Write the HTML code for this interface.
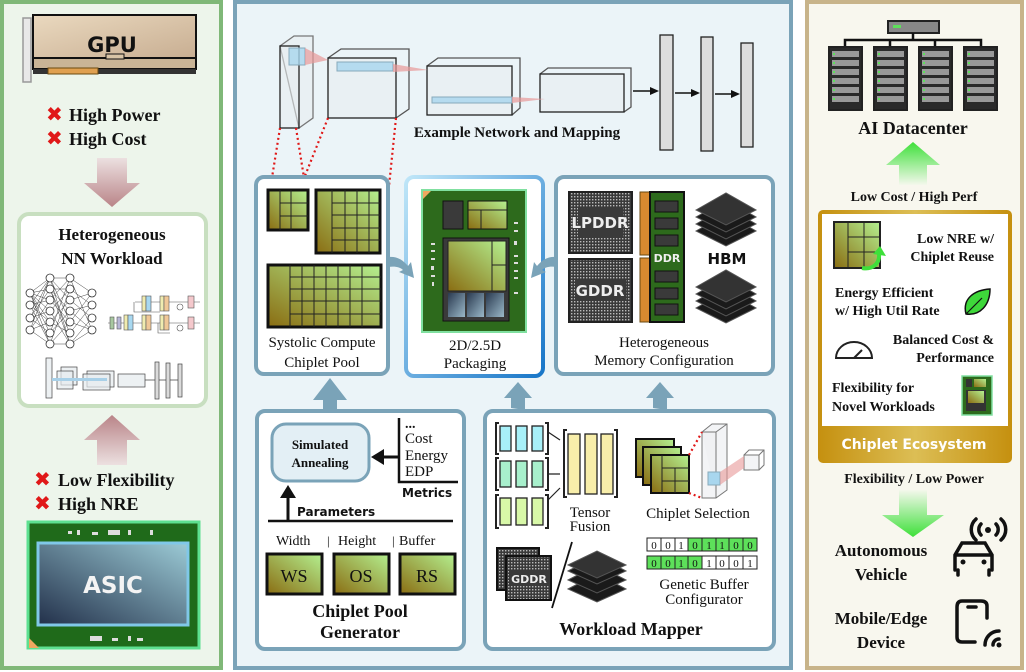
<!DOCTYPE html>
<html><head><meta charset="utf-8"><style>
html,body{margin:0;padding:0;background:#fff;}
svg{display:block;}
.sb{font-family:"Liberation Serif",serif;font-weight:bold;fill:#111;}
.sr{font-family:"Liberation Serif",serif;fill:#111;}
.ss{font-family:"DejaVu Sans","Liberation Sans",sans-serif;font-weight:bold;}
</style></head><body>
<svg width="1026" height="672" viewBox="0 0 1026 672" xmlns="http://www.w3.org/2000/svg">
<defs>
<linearGradient id="olive" x1="0" y1="1" x2="1" y2="0"><stop offset="0" stop-color="#8a6d12"/><stop offset="1" stop-color="#b4f090"/></linearGradient>
<linearGradient id="gpu" x1="0" y1="0" x2="1" y2="1"><stop offset="0" stop-color="#ead9bf"/><stop offset="1" stop-color="#c8ae92"/></linearGradient>
<linearGradient id="asic" x1="0" y1="1" x2="1" y2="0"><stop offset="0" stop-color="#22304a"/><stop offset="1" stop-color="#9ccbd6"/></linearGradient>
<linearGradient id="pink" x1="0" y1="0" x2="0" y2="1"><stop offset="0" stop-color="#ece0e0"/><stop offset="1" stop-color="#b98488"/></linearGradient>
<linearGradient id="pinkup" x1="0" y1="1" x2="0" y2="0"><stop offset="0" stop-color="#ece0e0"/><stop offset="1" stop-color="#b98488"/></linearGradient>
<linearGradient id="grnup" x1="0" y1="1" x2="0" y2="0"><stop offset="0" stop-color="#f4f8ec"/><stop offset="1" stop-color="#3ee03a"/></linearGradient>
<linearGradient id="grndn" x1="0" y1="0" x2="0" y2="1"><stop offset="0" stop-color="#f4f8ec"/><stop offset="1" stop-color="#3ee03a"/></linearGradient>
<linearGradient id="gold" x1="0" y1="0" x2="1" y2="0"><stop offset="0" stop-color="#c5900f"/><stop offset="0.5" stop-color="#dcbe55"/><stop offset="1" stop-color="#c5900f"/></linearGradient>
<linearGradient id="pkg" x1="0" y1="0" x2="1" y2="1"><stop offset="0" stop-color="#bfe6f8"/><stop offset="1" stop-color="#1876c8"/></linearGradient>
<linearGradient id="hbmb" x1="0" y1="0" x2="1" y2="1"><stop offset="0" stop-color="#2a3a50"/><stop offset="1" stop-color="#9ab8c8"/></linearGradient>
<pattern id="dots" width="3" height="3" patternUnits="userSpaceOnUse"><rect width="3" height="3" fill="#3a3a3a"/><rect x="1" y="1" width="1.4" height="1.4" fill="#bbb"/></pattern>
</defs>

<!-- LEFT PANEL -->
<rect x="2" y="2" width="219" height="666" fill="#edf5eb" stroke="#80b878" stroke-width="4"/>
<!-- GPU -->
<rect x="23" y="18" width="8" height="64" fill="#e8e8e8" stroke="#999" stroke-width="1.5"/>
<rect x="33" y="15" width="163" height="43" fill="url(#gpu)" stroke="#111" stroke-width="2"/>
<rect x="33" y="58" width="163" height="11" fill="#c9b496" stroke="#111" stroke-width="2"/>
<rect x="33" y="69" width="163" height="5" fill="#333"/>
<rect x="48" y="68" width="50" height="6" fill="#e0a050" stroke="#6a4a10"/>
<rect x="106" y="54" width="18" height="5" fill="#d8c4a6" stroke="#111"/>
<text x="112" y="52" text-anchor="middle" class="ss" font-size="21" fill="#111">GPU</text>
<text x="46" y="121" font-size="20" fill="#e01818" class="ss">✖</text>
<text x="69" y="121" class="sb" font-size="18">High Power</text>
<text x="46" y="145" font-size="20" fill="#e01818" class="ss">✖</text>
<text x="69" y="145" class="sb" font-size="18">High Cost</text>
<path d="M97 158 H127 V183 H140 L112 207 L84 183 H97 Z" fill="url(#pink)"/>
<!-- NN box -->
<rect x="19" y="214" width="187" height="192" rx="10" fill="#fff" stroke="#c8dfc0" stroke-width="4"/>
<text x="112" y="240" text-anchor="middle" class="sb" font-size="17">Heterogeneous</text>
<text x="112" y="264" text-anchor="middle" class="sb" font-size="17">NN Workload</text>
<g stroke="#444" stroke-width="0.5" fill="none">
<path d="M30 293L50 278M30 293L50 289M30 293L50 300M30 293L50 311M30 293L50 322M30 293L50 333M30 293L50 344M30 305L50 278M30 305L50 300M30 305L50 322M30 305L50 344M30 318L50 278M30 318L50 289M30 318L50 311M30 318L50 333M30 330L50 278M30 330L50 300M30 330L50 322M30 330L50 344
M50 278L70 278M50 278L70 300M50 278L70 322M50 278L70 344M50 289L70 289M50 289L70 311M50 289L70 333M50 300L70 278M50 300L70 322M50 311L70 289M50 311L70 344M50 322L70 300M50 322L70 333M50 333L70 278M50 333L70 311M50 344L70 322M50 344L70 344M50 289L70 344M50 344L70 289
M70 278L92 293M70 289L92 305M70 300L92 318M70 311L92 330M70 322L92 293M70 333L92 305M70 344L92 318M70 278L92 330M70 300L92 293M70 311L92 305M70 322L92 330M70 344L92 330"/>
</g>
<g fill="#fff" stroke="#333" stroke-width="0.8">
<circle cx="30" cy="293" r="4"/><circle cx="30" cy="305" r="4"/><circle cx="30" cy="318" r="4"/><circle cx="30" cy="330" r="4"/>
<circle cx="92" cy="293" r="4"/><circle cx="92" cy="305" r="4"/><circle cx="92" cy="318" r="4"/><circle cx="92" cy="330" r="4"/>
<circle cx="50" cy="278" r="4"/><circle cx="50" cy="289" r="4"/><circle cx="50" cy="300" r="4"/><circle cx="50" cy="311" r="4"/><circle cx="50" cy="322" r="4"/><circle cx="50" cy="333" r="4"/><circle cx="50" cy="344" r="4"/>
<circle cx="70" cy="278" r="4"/><circle cx="70" cy="289" r="4"/><circle cx="70" cy="300" r="4"/><circle cx="70" cy="311" r="4"/><circle cx="70" cy="322" r="4"/><circle cx="70" cy="333" r="4"/><circle cx="70" cy="344" r="4"/>
</g>
<g stroke="#555" stroke-width="0.6">
<path d="M108 323H200M135 302H200M134 302V312H160M158 323V333H170" fill="none"/>
<rect x="110" y="317" width="4" height="12" fill="#a8c8a0"/><rect x="117" y="317" width="4" height="12" fill="#b8b8d8"/>
<rect x="124" y="315" width="4" height="15" fill="#f0ecb0"/><rect x="128" y="315" width="5" height="15" fill="#a8d8f0"/>
<rect x="142" y="296" width="4" height="15" fill="#f0ecb0"/><rect x="146" y="296" width="5" height="15" fill="#a8d8f0"/>
<rect x="160" y="296" width="4" height="15" fill="#f0ecb0"/><rect x="164" y="296" width="5" height="15" fill="#f0c898"/>
<rect x="142" y="315" width="4" height="15" fill="#f0ecb0"/><rect x="146" y="315" width="5" height="15" fill="#f0c898"/>
<rect x="160" y="315" width="4" height="15" fill="#f0ecb0"/><rect x="164" y="315" width="5" height="15" fill="#f0c898"/>
<circle cx="180" cy="307" r="3" fill="#fff"/><circle cx="180" cy="328" r="3" fill="#fff"/>
<rect x="188" y="296" width="6" height="12" fill="#f4c8cc"/><rect x="188" y="317" width="6" height="12" fill="#f4c8cc"/>
</g>
<g stroke="#444" stroke-width="0.7" fill="#e6ebee" fill-opacity="0.7">
<rect x="46" y="358" width="6" height="40"/>
<rect x="61" y="367" width="16" height="18"/><rect x="57" y="371" width="16" height="18"/>
<rect x="87" y="371" width="27" height="16"/><rect x="83" y="374" width="27" height="16"/>
<rect x="118" y="374" width="27" height="13"/>
<rect x="155" y="362" width="4" height="37" fill="#ccc"/><rect x="166" y="363" width="4" height="35" fill="#ccc"/><rect x="178" y="364" width="4" height="33" fill="#ccc"/>
<path d="M145 380H155M159 380H166M170 380H178" fill="none"/>
</g>
<rect x="52" y="378" width="55" height="3" fill="#a8d0e8"/>
<path d="M97 465 H127 V440 H140 L112 415 L84 440 H97 Z" fill="url(#pinkup)"/>
<text x="34" y="486" font-size="20" fill="#e01818" class="ss">✖</text>
<text x="58" y="486" class="sb" font-size="18">Low Flexibility</text>
<text x="34" y="510" font-size="20" fill="#e01818" class="ss">✖</text>
<text x="58" y="510" class="sb" font-size="18">High NRE</text>
<rect x="28" y="522" width="171" height="126" fill="#1f6a1a" stroke="#5de090" stroke-width="3"/>
<g fill="#ddd"><rect x="68" y="531" width="4" height="3"/><rect x="77" y="530" width="3" height="5"/><rect x="92" y="532" width="6" height="3"/><rect x="108" y="530" width="12" height="5"/><rect x="128" y="530" width="3" height="5"/><rect x="150" y="530" width="3" height="5"/>
<rect x="90" y="636" width="12" height="5"/><rect x="112" y="638" width="6" height="3"/><rect x="128" y="636" width="3" height="5"/><rect x="137" y="638" width="6" height="3"/></g>
<rect x="38" y="543" width="150" height="82" fill="url(#asic)" stroke="#80c8e8" stroke-width="3"/>
<path d="M29 648 L29 638 L39 648 Z" fill="#f0a860"/>
<text x="113" y="593" text-anchor="middle" class="ss" font-size="23" fill="#f4f4f4">ASIC</text>

<!-- CENTER PANEL -->
<rect x="235" y="2" width="556" height="666" fill="#ebf4f8" stroke="#7aa3b8" stroke-width="4"/>
<!-- network -->
<g stroke="#222" stroke-width="1.3" fill="#e8ecee" fill-opacity="0.55">
<path d="M280 46 L294 36 L313 36 L313 118 L299 128 Z" stroke="#777"/>
<rect x="280" y="46" width="19" height="82"/>
<path d="M328 58 L341 49 L409 49 L409 109 L396 118" fill="none" stroke="#555"/>
<rect x="328" y="58" width="68" height="60"/>
<path d="M427 66 L438 58 L520 58 L520 108 L512 115" fill="none" stroke="#555"/>
<rect x="427" y="66" width="85" height="49"/>
<path d="M540 74 L548 68 L631 68 L631 107 L624 112" fill="none" stroke="#555"/>
<rect x="540" y="74" width="84" height="38"/>
</g>
<g fill="#a8d6ee" fill-opacity="0.8" stroke="#8ab">
<rect x="289" y="48" width="16" height="17"/><rect x="337" y="62" width="56" height="9"/><rect x="432" y="97" width="80" height="6"/>
</g>
<g fill="#e89898" fill-opacity="0.7"><path d="M305 48 L328 60 L305 65Z"/><path d="M393 64 L428 70 L393 72Z"/><path d="M512 97 L545 99 L512 103Z"/></g>
<g fill="#ddd" stroke="#222" stroke-width="1.3">
<rect x="660" y="35" width="13" height="115"/><rect x="701" y="37" width="12" height="114"/><rect x="741" y="43" width="12" height="104"/>
</g>
<g stroke="#111" stroke-width="1.4"><path d="M633 91H652M675 93H694M715 94H734"/></g>
<g fill="#111"><path d="M659 91 L650 87 L650 95Z"/><path d="M700 93 L691 89 L691 97Z"/><path d="M740 94 L731 90 L731 98Z"/></g>
<text x="517" y="137" text-anchor="middle" class="sr" font-size="15" font-weight="bold">Example Network and Mapping</text>
<g stroke="#e01818" stroke-width="2.2" stroke-dasharray="2,3" fill="none">
<path d="M280 128 L270 190M296 128 L306 190M328 118 L270 264M396 118 L381 264"/>
</g>

<!-- Systolic box -->
<rect x="256" y="177" width="132" height="197" rx="8" fill="#fff" stroke="#7aa3b8" stroke-width="4"/>
<rect x="268" y="190" width="40" height="40" fill="url(#olive)" stroke="#111" stroke-width="3"/>
<path d="M280 190V230M291 190V230M280 203H308M280 216H308" stroke="#222" stroke-width="1"/>
<rect x="316" y="190" width="64" height="63" fill="url(#olive)" stroke="#111" stroke-width="3"/>
<path d="M332 190V253M345 190V253M357 190V253M369 190V253M332 203H380M332 215H380M332 228H380M332 240H380" stroke="#222" stroke-width="1"/>
<rect x="268" y="265" width="113" height="62" fill="url(#olive)" stroke="#111" stroke-width="3"/>
<path d="M290 265V327M302 265V327M314 265V327M326 265V327M338 265V327M350 265V327M362 265V327M290 277H381M290 289H381M290 301H381M290 314H381" stroke="#222" stroke-width="1"/>
<text x="322" y="347" text-anchor="middle" class="sr" font-size="15">Systolic Compute</text>
<text x="322" y="367" text-anchor="middle" class="sr" font-size="15">Chiplet Pool</text>
<!-- Packaging -->
<rect x="406" y="177" width="137" height="199" rx="8" fill="#fff" stroke="url(#pkg)" stroke-width="4"/>
<rect x="422" y="190" width="104" height="142" fill="#2d6a1c" stroke="#80e0a0" stroke-width="2"/>
<path d="M423 191 L431 191 L423 199Z" fill="#f0a860"/>
<rect x="443" y="201" width="20" height="28" fill="#3a3a3a" stroke="#111"/>
<rect x="468" y="201" width="39" height="28" fill="url(#olive)" stroke="#111"/>
<path d="M468 210H507M481 210V229" stroke="#222"/>
<rect x="443" y="238" width="66" height="83" fill="#3a3a3a" stroke="#111"/>
<rect x="448" y="241" width="58" height="50" fill="url(#olive)" stroke="#222"/>
<path d="M492 241V291M492 265H506" stroke="#222"/>
<rect x="448" y="293" width="17" height="24" fill="url(#hbmb)"/><rect x="467" y="293" width="17" height="24" fill="url(#hbmb)"/><rect x="486" y="293" width="18" height="24" fill="url(#hbmb)"/>
<g fill="#ddd"><rect x="431" y="243" width="4" height="2"/><rect x="431" y="250" width="4" height="2"/><rect x="431" y="258" width="4" height="2"/><rect x="431" y="266" width="3" height="4"/><rect x="431" y="275" width="4" height="2"/><rect x="432" y="282" width="2" height="4"/><rect x="514" y="222" width="4" height="2"/><rect x="514" y="230" width="4" height="2"/><rect x="514" y="241" width="3" height="4"/><rect x="514" y="255" width="4" height="2"/><rect x="514" y="262" width="4" height="2"/><rect x="514" y="270" width="4" height="2"/><rect x="514" y="277" width="4" height="2"/><rect x="514" y="292" width="4" height="2"/></g>
<text x="475" y="350" text-anchor="middle" class="sr" font-size="15">2D/2.5D</text>
<text x="475" y="368" text-anchor="middle" class="sr" font-size="15">Packaging</text>
<!-- arrows into packaging -->
<path d="M388 257 C397 256 403 260 408 266 L411 262 L414 278 L399 272 L403 270 C400 267 395 266 388 267 Z" fill="#7aa3b8"/>
<path d="M557 257 C548 256 542 260 537 266 L534 262 L531 278 L546 272 L542 270 C545 267 550 266 557 267 Z" fill="#7aa3b8"/>
<!-- Memory -->
<rect x="556" y="177" width="217" height="197" rx="8" fill="#fff" stroke="#7aa3b8" stroke-width="4"/>
<rect x="569" y="192" width="63" height="61" fill="url(#dots)" stroke="#222" stroke-width="2"/>
<rect x="578" y="207" width="45" height="30" fill="#3a3a3a"/>
<text x="600" y="228" text-anchor="middle" class="ss" font-size="15" fill="#eee">LPDDR</text>
<rect x="569" y="259" width="63" height="63" fill="url(#dots)" stroke="#222" stroke-width="2"/>
<rect x="575" y="279" width="51" height="22" fill="#3a3a3a"/>
<text x="600" y="296" text-anchor="middle" class="ss" font-size="15" fill="#eee">GDDR</text>
<rect x="640" y="192" width="10" height="63" fill="#d88a30" stroke="#6a4a10"/>
<rect x="640" y="258" width="10" height="64" fill="#d88a30" stroke="#6a4a10"/>
<rect x="650" y="192" width="34" height="130" fill="#2d6a1c" stroke="#111" stroke-width="2"/>
<g fill="#3a3a3a" stroke="#111"><rect x="655" y="201" width="23" height="11"/><rect x="655" y="218" width="23" height="11"/><rect x="655" y="235" width="23" height="11"/><rect x="655" y="271" width="23" height="11"/><rect x="655" y="288" width="23" height="11"/><rect x="655" y="304" width="23" height="11"/></g>
<text x="667" y="262" text-anchor="middle" class="ss" font-size="11" fill="#eee">DDR</text>
<g stroke="#555" stroke-width="1" fill="#1a1a1a">
<path d="M696 231 L726 214 L756 231 L726 246Z"/><path d="M696 224 L726 207 L756 224 L726 239Z"/><path d="M696 217 L726 200 L756 217 L726 232Z"/><path d="M696 210 L726 193 L756 210 L726 225Z" fill="#333"/>
<path d="M696 308 L726 291 L756 308 L726 323Z"/><path d="M696 301 L726 284 L756 301 L726 316Z"/><path d="M696 294 L726 277 L756 294 L726 309Z"/><path d="M696 287 L726 270 L756 287 L726 302Z" fill="#333"/>
</g>
<text x="727" y="264" text-anchor="middle" class="ss" font-size="15" fill="#111">HBM</text>
<text x="664" y="347" text-anchor="middle" class="sr" font-size="15">Heterogeneous</text>
<text x="664" y="365" text-anchor="middle" class="sr" font-size="15">Memory Configuration</text>
<!-- up arrows -->
<path d="M313 400 L330 378 L347 400Z M323 400 H337 V412 H323Z" fill="#7aa3b8"/>
<path d="M511 408 L511 398 L504 398 L518 382 L532 398 L525 398 L525 410Z" fill="#7aa3b8"/>
<path d="M653 408 L653 398 L646 398 L660 382 L674 398 L667 398 L667 410Z" fill="#7aa3b8"/>
<!-- Chiplet pool generator -->
<rect x="257" y="411" width="207" height="238" rx="8" fill="#fff" stroke="#7aa3b8" stroke-width="4"/>
<rect x="272" y="424" width="97" height="57" rx="14" fill="#e3eff5" stroke="#7aa3b8" stroke-width="3"/>
<text x="320" y="449" text-anchor="middle" class="sr" font-size="13" font-weight="bold">Simulated</text>
<text x="320" y="467" text-anchor="middle" class="sr" font-size="13" font-weight="bold">Annealing</text>
<path d="M399 418 V482 H458" stroke="#111" stroke-width="2.5" fill="none"/>
<path d="M399 457 H382" stroke="#111" stroke-width="3"/><path d="M371 457 L384 449 L384 465Z" fill="#111"/>
<text x="405" y="428" class="sr" font-size="14" font-weight="bold">...</text>
<text x="405" y="443" class="sr" font-size="15">Cost</text>
<text x="405" y="460" class="sr" font-size="15">Energy</text>
<text x="405" y="476" class="sr" font-size="15">EDP</text>
<text x="402" y="497" class="ss" font-size="12" fill="#111">Metrics</text>
<path d="M268 521 H453" stroke="#111" stroke-width="2.5"/>
<path d="M288 521 V496" stroke="#111" stroke-width="3"/><path d="M288 485 L280 498 L296 498Z" fill="#111"/>
<text x="297" y="516" class="ss" font-size="12" fill="#111">Parameters</text>
<text x="276" y="545" class="sr" font-size="14">Width</text><text x="327" y="545" class="sr" font-size="13">|</text>
<text x="338" y="545" class="sr" font-size="14">Height</text><text x="392" y="545" class="sr" font-size="13">|</text>
<text x="399" y="545" class="sr" font-size="14">Buffer</text>
<rect x="267" y="554" width="55" height="40" fill="url(#olive)" stroke="#111" stroke-width="3"/>
<rect x="334" y="554" width="55" height="40" fill="url(#olive)" stroke="#111" stroke-width="3"/>
<rect x="400" y="554" width="55" height="40" fill="url(#olive)" stroke="#111" stroke-width="3"/>
<text x="294" y="582" text-anchor="middle" class="sr" font-size="18">WS</text>
<text x="361" y="582" text-anchor="middle" class="sr" font-size="18">OS</text>
<text x="427" y="582" text-anchor="middle" class="sr" font-size="18">RS</text>
<text x="360" y="617" text-anchor="middle" class="sb" font-size="18">Chiplet Pool</text>
<text x="360" y="638" text-anchor="middle" class="sb" font-size="18">Generator</text>
<!-- Workload mapper -->
<rect x="485" y="411" width="289" height="238" rx="8" fill="#fff" stroke="#7aa3b8" stroke-width="4"/>
<g stroke="#222" stroke-width="1.3">
<rect x="500" y="426" width="11" height="25" fill="#a8f0f8"/><rect x="516" y="426" width="11" height="25" fill="#a8f0f8"/><rect x="532" y="426" width="11" height="25" fill="#a8f0f8"/>
<rect x="500" y="461" width="11" height="26" fill="#a8f0cc"/><rect x="516" y="461" width="11" height="26" fill="#a8f0cc"/><rect x="532" y="461" width="11" height="26" fill="#a8f0cc"/>
<rect x="500" y="498" width="11" height="27" fill="#d8f8a8"/><rect x="516" y="498" width="11" height="27" fill="#d8f8a8"/><rect x="532" y="498" width="11" height="27" fill="#d8f8a8"/>
<rect x="568" y="434" width="12" height="60" fill="#f8eeaa"/><rect x="585" y="434" width="12" height="60" fill="#f8eeaa"/><rect x="601" y="434" width="12" height="60" fill="#f8eeaa"/>
</g>
<g stroke="#222" stroke-width="2" fill="none">
<path d="M499 423H496V454H499M545 423H548V454H545M499 458H496V490H499M545 458H548V490H545M499 495H496V528H499M545 495H548V528H545M567 430H564V497H567M614 430H617V497H614"/>
<path d="M548 432 L560 440M548 474 H560M548 500 L560 488" stroke-width="1.2"/>
</g>
<text x="590" y="517" text-anchor="middle" class="sr" font-size="15">Tensor</text>
<text x="590" y="531" text-anchor="middle" class="sr" font-size="15">Fusion</text>
<rect x="636" y="439" width="38" height="38" fill="url(#olive)" stroke="#111" stroke-width="2"/>
<rect x="643" y="447" width="38" height="38" fill="url(#olive)" stroke="#111" stroke-width="2"/>
<rect x="651" y="455" width="38" height="38" fill="url(#olive)" stroke="#111" stroke-width="2"/>
<path d="M662 455V493M675 468V493M662 468H689M662 481H689" stroke="#222"/>
<g stroke="#777" fill="#eef0f2" fill-opacity="0.7" stroke-width="1">
<path d="M702 432 L712 424 L727 424 L727 490 L716 498 L702 498 Z"/><path d="M702 432 H716 V498 M716 432 L727 424"/>
<rect x="744" y="455" width="15" height="15"/><path d="M744 455 L749 450 L764 450 L764 465 L759 470 M759 455 L764 450" fill="none"/>
</g>
<rect x="708" y="472" width="12" height="13" fill="#a8d6ee" stroke="#8ab"/>
<path d="M720 472 L744 456 L744 468 L720 485Z" fill="#e89898" fill-opacity="0.6"/>
<path d="M689 455 L702 432M689 493 L702 498" stroke="#e01818" stroke-width="2.2" stroke-dasharray="2,3"/>
<text x="698" y="518" text-anchor="middle" class="sr" font-size="15">Chiplet Selection</text>
<g font-family="Liberation Serif,serif" font-size="11" text-anchor="middle" fill="#111" stroke="#222" stroke-width="1">
<rect x="647" y="538" width="110" height="13" fill="#fff"/><rect x="688" y="538" width="69" height="13" fill="#5de05a"/>
<rect x="647" y="556" width="110" height="13" fill="#fff"/><rect x="647" y="556" width="55" height="13" fill="#5de05a"/>
<path d="M661 538V551M675 538V551M688 538V551M702 538V551M716 538V551M729 538V551M743 538V551M661 556V569M675 556V569M688 556V569M702 556V569M716 556V569M729 556V569M743 556V569"/>
</g>
<g font-family="Liberation Serif,serif" font-size="11" text-anchor="middle" fill="#111">
<text x="654" y="549">0</text><text x="668" y="549">0</text><text x="681" y="549">1</text><text x="695" y="549">0</text><text x="709" y="549">1</text><text x="722" y="549">1</text><text x="736" y="549">0</text><text x="750" y="549">0</text>
<text x="654" y="567">0</text><text x="668" y="567">0</text><text x="681" y="567">1</text><text x="695" y="567">0</text><text x="709" y="567">1</text><text x="722" y="567">0</text><text x="736" y="567">0</text><text x="750" y="567">1</text>
</g>
<text x="704" y="589" text-anchor="middle" class="sr" font-size="15">Genetic Buffer</text>
<text x="704" y="604" text-anchor="middle" class="sr" font-size="15">Configurator</text>
<rect x="497" y="548" width="42" height="42" fill="url(#dots)" stroke="#111" stroke-width="2"/>
<rect x="506" y="556" width="45" height="44" fill="url(#dots)" stroke="#111" stroke-width="2"/>
<rect x="509" y="570" width="40" height="16" fill="#3a3a3a"/>
<text x="529" y="583" text-anchor="middle" class="ss" font-size="11" fill="#eee">GDDR</text>
<path d="M572 542 L552 608" stroke="#111" stroke-width="1.8"/>
<g stroke="#555" stroke-width="1" fill="#1a1a1a">
<path d="M568 589 L597 574 L626 589 L597 602Z"/><path d="M568 580 L597 565 L626 580 L597 593Z"/><path d="M568 571 L597 556 L626 571 L597 584Z"/><path d="M568 565 L597 551 L626 565 L597 578Z" fill="#333"/>
</g>
<text x="631" y="635" text-anchor="middle" class="sb" font-size="18">Workload Mapper</text>

<!-- RIGHT PANEL -->
<rect x="807" y="2" width="215" height="666" fill="#f8f7ee" stroke="#c8b48a" stroke-width="4"/>
<rect x="888" y="21" width="51" height="12" fill="#888" stroke="#222" stroke-width="2"/>
<rect x="893" y="25" width="8" height="3" fill="#5de05a"/>
<path d="M913 33 V40 M845 47 V40 H981 V47 M890 40 V47 M935 40 V47" stroke="#111" stroke-width="2.5" fill="none"/>
<g stroke="#222" stroke-width="2" fill="#2a2a2a">
<rect x="829" y="47" width="33" height="63"/><rect x="874" y="47" width="33" height="63"/><rect x="919" y="47" width="33" height="63"/><rect x="964" y="47" width="33" height="63"/>
</g>
<g fill="#999">
<rect x="832" y="51" width="27" height="6"/><rect x="832" y="60" width="27" height="6"/><rect x="832" y="69" width="27" height="6"/><rect x="832" y="78" width="27" height="6"/><rect x="832" y="87" width="27" height="6"/><rect x="832" y="96" width="27" height="6"/>
<rect x="877" y="51" width="27" height="6"/><rect x="877" y="60" width="27" height="6"/><rect x="877" y="69" width="27" height="6"/><rect x="877" y="78" width="27" height="6"/><rect x="877" y="87" width="27" height="6"/><rect x="877" y="96" width="27" height="6"/>
<rect x="922" y="51" width="27" height="6"/><rect x="922" y="60" width="27" height="6"/><rect x="922" y="69" width="27" height="6"/><rect x="922" y="78" width="27" height="6"/><rect x="922" y="87" width="27" height="6"/><rect x="922" y="96" width="27" height="6"/>
<rect x="967" y="51" width="27" height="6"/><rect x="967" y="60" width="27" height="6"/><rect x="967" y="69" width="27" height="6"/><rect x="967" y="78" width="27" height="6"/><rect x="967" y="87" width="27" height="6"/><rect x="967" y="96" width="27" height="6"/>
</g>
<g fill="#5de05a"><rect x="833" y="53" width="2" height="2"/><rect x="833" y="62" width="2" height="2"/><rect x="833" y="71" width="2" height="2"/><rect x="833" y="80" width="2" height="2"/><rect x="833" y="89" width="2" height="2"/><rect x="833" y="98" width="2" height="2"/><rect x="878" y="53" width="2" height="2"/><rect x="878" y="62" width="2" height="2"/><rect x="878" y="71" width="2" height="2"/><rect x="878" y="80" width="2" height="2"/><rect x="878" y="89" width="2" height="2"/><rect x="878" y="98" width="2" height="2"/><rect x="923" y="53" width="2" height="2"/><rect x="923" y="62" width="2" height="2"/><rect x="923" y="71" width="2" height="2"/><rect x="923" y="80" width="2" height="2"/><rect x="923" y="89" width="2" height="2"/><rect x="923" y="98" width="2" height="2"/><rect x="968" y="53" width="2" height="2"/><rect x="968" y="62" width="2" height="2"/><rect x="968" y="71" width="2" height="2"/><rect x="968" y="80" width="2" height="2"/><rect x="968" y="89" width="2" height="2"/><rect x="968" y="98" width="2" height="2"/></g>
<text x="913" y="134" text-anchor="middle" class="sb" font-size="18">AI Datacenter</text>
<path d="M899 185 V165 H886 L913 142 L940 165 H927 V185Z" fill="url(#grnup)"/>
<text x="914" y="201" text-anchor="middle" class="sb" font-size="14">Low Cost / High Perf</text>
<rect x="818" y="210" width="194" height="253" rx="5" fill="url(#gold)"/>
<rect x="822" y="214" width="186" height="212" fill="#fff"/>
<text x="914" y="449" text-anchor="middle" class="ss" font-size="14" fill="#fff">Chiplet Ecosystem</text>
<rect x="834" y="222" width="46" height="46" fill="url(#olive)" stroke="#222" stroke-width="2"/>
<path d="M848 222V268M864 222V268M848 237H880M848 252H880" stroke="#222"/>
<path d="M862 268 C872 270 880 264 879 254" stroke="#3ee03a" stroke-width="4" fill="none"/><path d="M873 254 L880 246 L886 256Z" fill="#3ee03a"/>
<text x="994" y="243" text-anchor="end" class="sb" font-size="14">Low NRE w/</text>
<text x="994" y="261" text-anchor="end" class="sb" font-size="14">Chiplet Reuse</text>
<text x="835" y="297" class="sb" font-size="14">Energy Efficient</text>
<text x="835" y="315" class="sb" font-size="14">w/ High Util Rate</text>
<path d="M966 314 C962 298 975 290 990 289 C990 305 980 316 966 314Z" fill="#3ed83a" stroke="#111" stroke-width="1.5"/>
<path d="M966 314 L982 298" stroke="#111" stroke-width="1.2"/>
<path d="M836 358 A18 16 0 0 1 872 358 Z" fill="none" stroke="#222" stroke-width="2"/>
<path d="M854 358 L862 350" stroke="#222" stroke-width="2"/>
<text x="994" y="344" text-anchor="end" class="sb" font-size="14">Balanced Cost &amp;</text>
<text x="994" y="362" text-anchor="end" class="sb" font-size="14">Performance</text>
<text x="832" y="392" class="sb" font-size="14">Flexibility for</text>
<text x="832" y="411" class="sb" font-size="14">Novel Workloads</text>
<rect x="962" y="376" width="30" height="39" fill="#2d6a1c" stroke="#80e0a0" stroke-width="1.5"/>
<rect x="966" y="379" width="6" height="8" fill="#333"/><rect x="974" y="379" width="12" height="8" fill="url(#olive)"/>
<rect x="966" y="390" width="20" height="21" fill="#333"/><rect x="968" y="391" width="16" height="12" fill="url(#olive)"/>
<text x="914" y="483" text-anchor="middle" class="sb" font-size="14">Flexibility / Low Power</text>
<path d="M899 490 V515 H882 L913 537 L944 515 H927 V490Z" fill="url(#grndn)"/>
<text x="881" y="556" text-anchor="middle" class="sb" font-size="17">Autonomous</text>
<text x="881" y="580" text-anchor="middle" class="sb" font-size="17">Vehicle</text>
<g stroke="#111" stroke-width="3.5" fill="none" stroke-linecap="round">
<path d="M955 570 V555 L962 543 H985 L992 555 V570 M955 555 H992 M958 570 V575 M989 570 V575"/>
<path d="M981 535 A8 8 0 0 1 981 524 M996 535 A8 8 0 0 0 996 524 M976 540 A14 14 0 0 1 976 519 M1001 540 A14 14 0 0 0 1001 519"/>
</g>
<circle cx="988" cy="530" r="3" fill="#111"/>
<circle cx="963" cy="562" r="2.5" fill="#111"/><circle cx="984" cy="562" r="2.5" fill="#111"/>
<text x="881" y="624" text-anchor="middle" class="sb" font-size="17">Mobile/Edge</text>
<text x="881" y="648" text-anchor="middle" class="sb" font-size="17">Device</text>
<g stroke="#111" stroke-width="3.5" fill="none" stroke-linecap="round">
<path d="M975 642 H962 Q957 642 957 637 V607 Q957 601 962 601 H981 Q987 601 987 606 V618"/>
<path d="M968 607 H976"/>
<path d="M985 645 A14 14 0 0 1 999 631 M993 645 A6 6 0 0 1 999 639"/>
</g>
<circle cx="999" cy="645" r="2.5" fill="#111"/>
</svg>
</body></html>
